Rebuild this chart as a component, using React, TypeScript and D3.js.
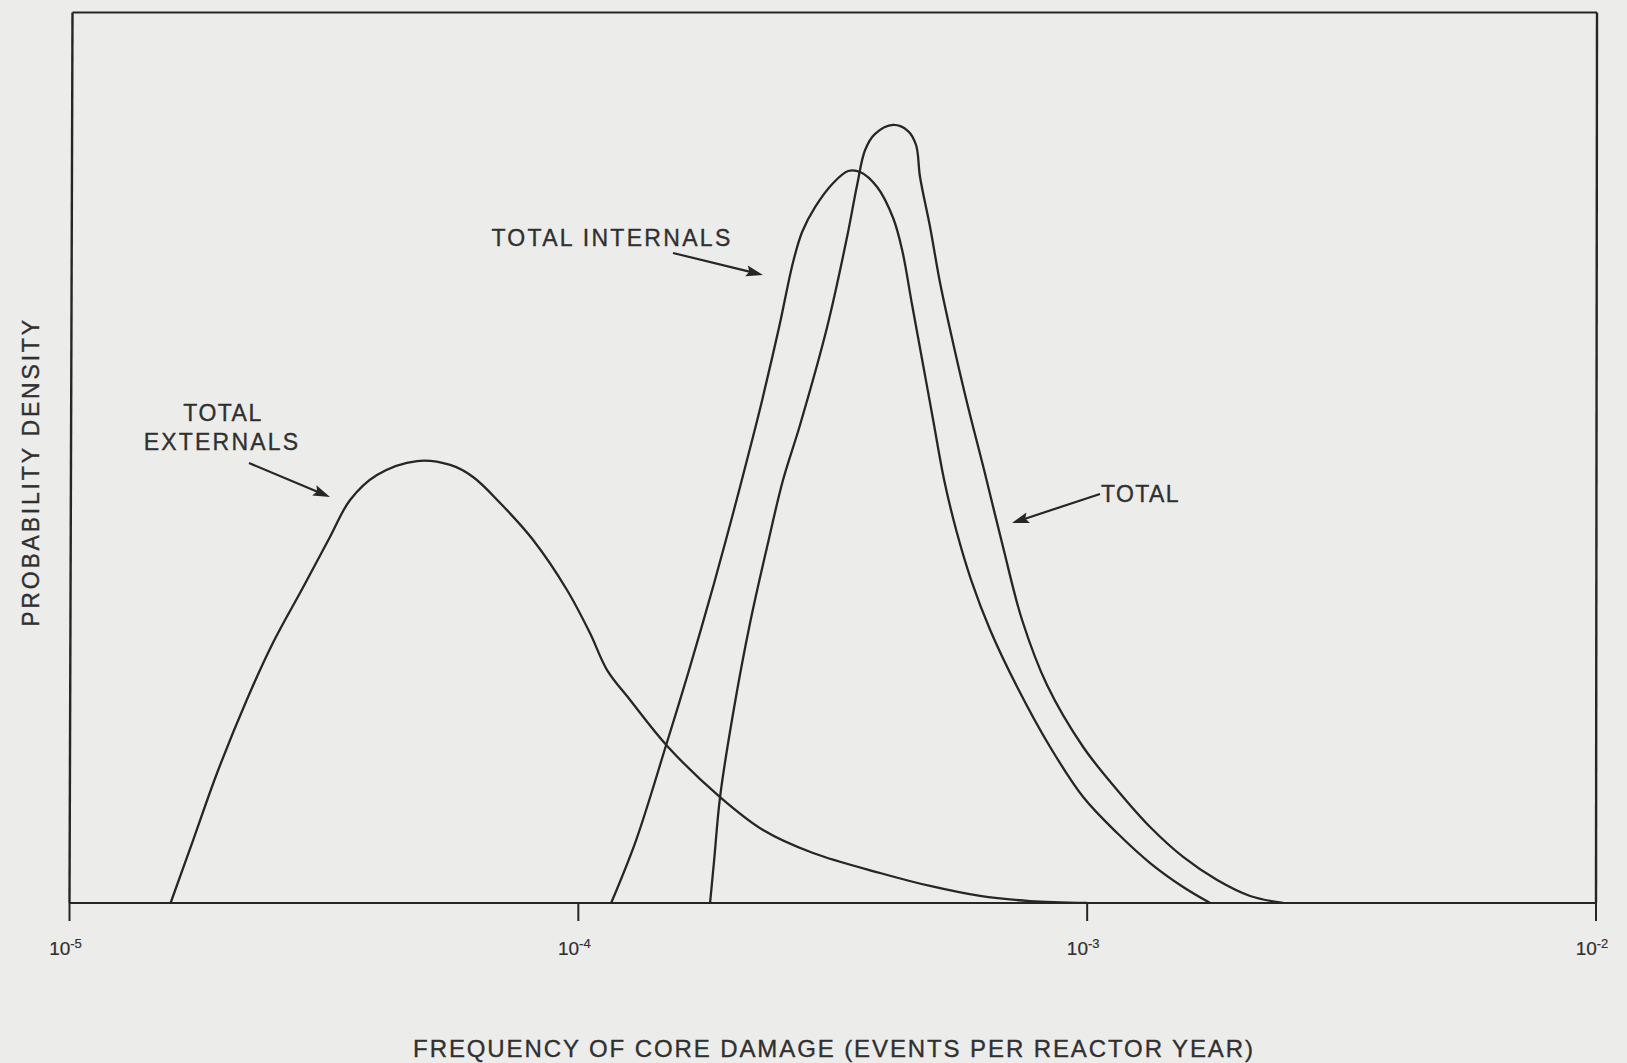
import React from 'react';
import * as d3 from 'd3';

// ---------- data ----------
const xTickValues = [1e-5, 1e-4, 1e-3, 1e-2];
const xTickBase = ['10', '10', '10', '10'];
const xTickExponents = ['-5', '-4', '-3', '-2'];

const externalsFreq = [1.58e-5, 1.75e-5, 1.95e-5, 2.23e-5, 2.51e-5, 2.88e-5, 3.25e-5, 3.56e-5, 4.02e-5, 4.82e-5, 5.60e-5, 6.21e-5, 7.02e-5, 8.15e-5, 9.50e-5, 1.054e-4, 1.139e-4, 1.264e-4, 1.501e-4, 1.899e-4, 2.307e-4, 2.893e-4, 3.917e-4, 4.912e-4, 6.16e-4, 7.725e-4, 1.0e-3];
const externalsDensity = [0, 7.07, 14.6, 22.8, 29.2, 35.49, 41.1, 45.26, 48.06, 49.63, 49.19, 47.84, 44.92, 40.76, 35.15, 30.32, 26.16, 22.8, 17.52, 11.9, 8.2, 5.61, 3.37, 1.91, 0.79, 0.22, 0];

const internalsFreq = [1.160e-4, 1.299e-4, 1.488e-4, 1.644e-4, 1.849e-4, 2.015e-4, 2.196e-4, 2.298e-4, 2.481e-4, 2.643e-4, 2.753e-4, 2.921e-4, 3.169e-4, 3.391e-4, 3.580e-4, 3.866e-4, 4.156e-4, 4.329e-4, 4.529e-4, 4.760e-4, 4.981e-4, 5.235e-4, 5.528e-4, 5.916e-4, 6.447e-4, 7.285e-4, 8.457e-4, 9.821e-4, 1.1454e-3, 1.3297e-3, 1.5439e-3, 1.7449e-3];
const internalsDensity = [0, 7.07, 17.74, 25.83, 35.93, 43.8, 51.99, 56.49, 64.68, 71.98, 75.35, 78.16, 80.85, 82.2, 82.09, 80.4, 76.92, 73.33, 67.15, 60.42, 54.24, 47.5, 41.89, 36.27, 30.66, 24.26, 17.52, 11.9, 7.86, 4.49, 1.8, 0];

const totalFreq = [1.815e-4, 1.849e-4, 1.899e-4, 2.015e-4, 2.175e-4, 2.349e-4, 2.525e-4, 2.727e-4, 3.083e-4, 3.374e-4, 3.531e-4, 3.661e-4, 3.830e-4, 4.154e-4, 4.446e-4, 4.610e-4, 4.694e-4, 4.912e-4, 5.140e-4, 5.451e-4, 5.808e-4, 6.273e-4, 6.834e-4, 7.449e-4, 8.339e-4, 9.821e-4, 1.1454e-3, 1.3297e-3, 1.5439e-3, 1.8006e-3, 2.0905e-3, 2.4272e-3];
const totalDensity = [0, 4.83, 11.9, 21.34, 31.44, 39.98, 47.5, 53.68, 64.68, 74.79, 80.63, 84.56, 86.36, 87.37, 86.69, 85.12, 81.53, 75.91, 69.62, 62.89, 56.15, 48.62, 39.98, 31.78, 24.48, 17.52, 12.69, 8.53, 5.17, 2.58, 0.79, 0];

const seriesNames = ['TOTAL EXTERNALS', 'TOTAL INTERNALS', 'TOTAL'];
const yTitle = 'PROBABILITY DENSITY';
const xTitle = 'FREQUENCY OF CORE DAMAGE (EVENTS PER REACTOR YEAR)';

// ---------- layout ----------
const W = 1627;
const H = 1063;
const PLOT = { left: 69.5, right: 1596, top: 12.5, bottom: 903 };
const INK = '#262626';
const TEXT = '#303030';
const FONT = '"Liberation Sans", Arial, Helvetica, sans-serif';

type Arrow = { x1: number; y1: number; x2: number; y2: number };
const arrows: Arrow[] = [
  { x1: 249, y1: 463, x2: 330, y2: 497 },
  { x1: 673, y1: 253, x2: 763, y2: 275 },
  { x1: 1100, y1: 494, x2: 1012, y2: 523 },
];

function ArrowMark({ a }: { a: Arrow }) {
  const dx = a.x2 - a.x1;
  const dy = a.y2 - a.y1;
  const len = Math.hypot(dx, dy);
  const ux = dx / len;
  const uy = dy / len;
  const hl = 17;
  const hw = 5.5;
  const bx = a.x2 - ux * hl;
  const by = a.y2 - uy * hl;
  const pts = [
    [a.x2, a.y2],
    [bx - uy * hw, by + ux * hw],
    [bx + ux * 3, by + uy * 3],
    [bx + uy * hw, by - ux * hw],
  ];
  return (
    <g>
      <line x1={a.x1} y1={a.y1} x2={bx + ux * 4} y2={by + uy * 4} stroke={INK} strokeWidth={2.2} />
      <polygon points={pts.map((p) => p.join(',')).join(' ')} fill={INK} />
    </g>
  );
}

export default function App() {
  const x = d3.scaleLog().domain([1e-5, 1e-2]).range([PLOT.left, PLOT.right]);
  const y = d3.scaleLinear().domain([0, 100]).range([PLOT.bottom, PLOT.top]);
  const line = d3
    .line<[number, number]>()
    .x((d) => x(d[0]))
    .y((d) => Math.min(y(d[1]), PLOT.bottom))
    .curve(d3.curveCatmullRom.alpha(0.5));

  const series: [number, number][][] = [
    externalsFreq.map((f, i) => [f, externalsDensity[i]] as [number, number]),
    internalsFreq.map((f, i) => [f, internalsDensity[i]] as [number, number]),
    totalFreq.map((f, i) => [f, totalDensity[i]] as [number, number]),
  ];

  const x0 = x(1e-5);
  const x1 = x(1e-2);
  const yb = y(0);
  const yt = PLOT.top;

  const textProps = { fill: TEXT, stroke: TEXT, strokeWidth: 0.35 };

  return (
    <svg
      width={W}
      height={H}
      style={{ position: 'fixed', left: 0, top: 0, display: 'block' }}
      fontFamily={FONT}
    >
      <rect x={0} y={0} width={W} height={H} fill="#ececeb" />
      <defs>
        <clipPath id="plotclip">
          <rect x={0} y={0} width={W} height={yb + 1} />
        </clipPath>
      </defs>

      {/* frame */}
      <line x1={x0 + 3} y1={yt} x2={x1 + 1} y2={yt} stroke={INK} strokeWidth={2.2} />
      <line x1={x0 + 3} y1={yt} x2={x0} y2={yb} stroke={INK} strokeWidth={2.4} />
      <line x1={x1 + 1} y1={yt} x2={x1} y2={yb} stroke={INK} strokeWidth={2.4} />
      <line x1={x0} y1={yb} x2={x1} y2={yb} stroke={INK} strokeWidth={2.2} />

      {/* ticks */}
      {xTickValues.map((v, i) => (
        <g key={'t' + i}>
          <line x1={x(v)} y1={yb} x2={x(v)} y2={yb + 18} stroke={INK} strokeWidth={2} />
          <text x={x(v) - 4} y={955} fontSize={19} textAnchor="middle" {...textProps} strokeWidth={0.2}>
            {xTickBase[i]}
            <tspan fontSize={13} dy={-7}>{xTickExponents[i]}</tspan>
          </text>
        </g>
      ))}

      {/* curves */}
      <g clipPath="url(#plotclip)">
        {series.map((s, i) => (
          <path
            key={seriesNames[i]}
            d={line(s) || ''}
            fill="none"
            stroke={INK}
            strokeWidth={2.3}
            strokeLinejoin="round"
          />
        ))}
      </g>

      {/* annotations */}
      {arrows.map((a, i) => (
        <ArrowMark key={'a' + i} a={a} />
      ))}
      <text x={223} y={421} fontSize={23} textAnchor="middle" letterSpacing={1.5} {...textProps}>
        TOTAL
      </text>
      <text x={222} y={450} fontSize={23} textAnchor="middle" letterSpacing={2.2} {...textProps}>
        EXTERNALS
      </text>
      <text x={612} y={246} fontSize={23} textAnchor="middle" letterSpacing={2.3} {...textProps}>
        {seriesNames[1]}
      </text>
      <text x={1101} y={502} fontSize={23} textAnchor="start" letterSpacing={1.4} {...textProps}>
        {seriesNames[2]}
      </text>

      {/* axis titles */}
      <text
        transform="translate(39,472) rotate(-90)"
        fontSize={23}
        textAnchor="middle"
        letterSpacing={2.8}
        {...textProps}
      >
        {yTitle}
      </text>
      <text x={834} y={1057} fontSize={24} textAnchor="middle" letterSpacing={1.9} {...textProps}>
        {xTitle}
      </text>
    </svg>
  );
}
